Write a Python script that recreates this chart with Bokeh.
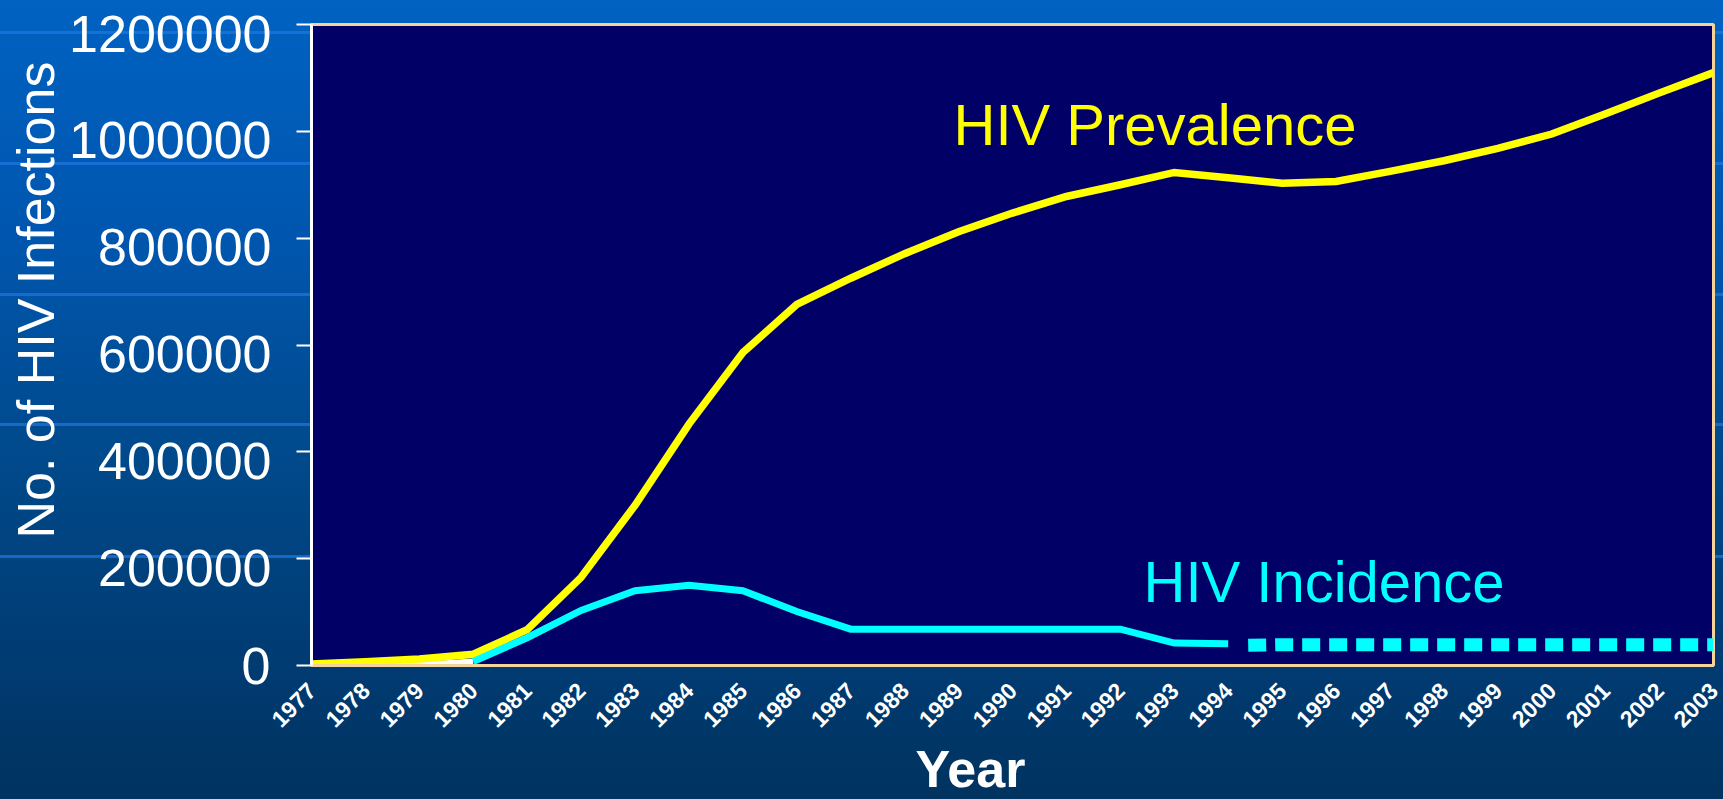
import math
from bokeh.plotting import figure
from bokeh.models import Range1d, FixedTicker, BasicTickFormatter, Label, LinearAxis, Title
from bokeh.embed import file_html
from bokeh.resources import INLINE

# ---- data ----
years = [1977, 1978, 1979, 1980, 1981, 1982, 1983, 1984, 1985, 1986, 1987, 1988, 1989,
         1990, 1991, 1992, 1993, 1994, 1995, 1996, 1997, 1998, 1999, 2000, 2001, 2002, 2003]
prevalence = [3000, 7000, 12000, 21000, 67000, 165000, 300000, 452000, 586000, 676000,
              725000, 771000, 812000, 847000, 878000, 900000, 923000, 913000, 903000,
              906000, 925000, 945000, 968000, 995000, 1033000, 1072000, 1110000]

early_years = [1977, 1978, 1979, 1980]
early_incidence = [0, 0, 1500, 7500]

incidence_years = [1980, 1981, 1982, 1983, 1984, 1985, 1986, 1987, 1988, 1989, 1990,
                   1991, 1992, 1993, 1994]
incidence = [7500, 52000, 103000, 140000, 150000, 140000, 101000, 68000, 68000, 68000,
             68000, 68000, 68000, 42000, 40500]

projected_years = [1994, 1995, 1996, 1997, 1998, 1999, 2000, 2001, 2002, 2003]
projected_incidence = [37000, 39000, 39000, 39000, 39000, 39000, 39000, 39000, 39000, 39000]

y_ticks = [0, 200000, 400000, 600000, 800000, 1000000, 1200000]

x_title = "Year"
y_title = "No. of HIV Infections"
prev_label = "HIV Prevalence"
inc_label = "HIV Incidence"

FONT = "Liberation Sans"
BEIGE = "#F5D49A"

W, H = 1723, 799
BL, BR, BT, BB = 311, 10, 24, 134
frame_w = W - BL - BR
frame_h = H - BT - BB
x0, x1 = years[0], years[-1]
y0, y1 = y_ticks[0], y_ticks[-1]
ux = (x1 - x0) / frame_w      # data units per pixel (x)
uy = (y1 - y0) / frame_h      # data units per pixel (y)

p = figure(width=W, height=H, output_backend="svg", toolbar_location=None,
           x_range=Range1d(x0, x1), y_range=Range1d(y0, y1),
           min_border_left=BL, min_border_right=BR, min_border_top=BT, min_border_bottom=BB)
p.background_fill_color = "#000066"
p.border_fill_color = None
p.outline_line_color = BEIGE
p.outline_line_width = 3
p.xgrid.visible = False
p.ygrid.visible = False

c = "rgba(30,120,225,0.7)"
stops = []
for a in (31, 162, 293, 423, 555):
    stops.append(f"transparent {a}px, {c} {a}px, {c} {a + 3}px, transparent {a + 3}px")
lines_bg = "linear-gradient(to bottom, transparent 0px, " + ", ".join(stops) + ")"
base_bg = "linear-gradient(to bottom, #0062C2 0%, #0056AE 30%, #004888 60%, #003A70 85%, #00335F 100%)"
p.styles = {"background": lines_bg + ", " + base_bg}

# x axis
xa = p.xaxis[0]
xa.ticker = FixedTicker(ticks=years)
xa.formatter = BasicTickFormatter(use_scientific=False)
xa.major_label_orientation = math.pi / 4
xa.major_label_text_font = FONT
xa.major_label_text_font_size = "23px"
xa.major_label_text_font_style = "bold"
xa.major_label_text_color = "white"
xa.major_label_standoff = 21
xa.major_tick_out = 0
xa.major_tick_in = 0
xa.minor_tick_out = 0
xa.minor_tick_in = 0
xa.axis_line_color = BEIGE
xa.axis_line_width = 3

# y axis: tick marks, axis line and the "0" label
ya = p.yaxis[0]
ya.ticker = FixedTicker(ticks=y_ticks)
ya.formatter = BasicTickFormatter(use_scientific=False)
ya.major_label_overrides = {v: "" for v in y_ticks[1:]}
ya.major_label_text_font = FONT
ya.major_label_text_font_size = "52px"
ya.major_label_text_color = "white"
ya.major_label_standoff = 26
ya.major_tick_out = 15
ya.major_tick_in = 0
ya.major_tick_line_color = "white"
ya.major_tick_line_width = 2
ya.minor_tick_out = 0
ya.minor_tick_in = 0
ya.axis_line_color = "white"
ya.axis_line_width = 3

# other y tick labels sit a little below their ticks in the reference
p.extra_y_ranges = {"labels": Range1d(y0 + 9 * uy, y1 + 9 * uy)}
yl = LinearAxis(y_range_name="labels")
yl.ticker = FixedTicker(ticks=y_ticks[1:])
yl.formatter = BasicTickFormatter(use_scientific=False)
yl.major_label_text_font = FONT
yl.major_label_text_font_size = "52px"
yl.major_label_text_color = "white"
yl.major_label_standoff = -33
yl.major_tick_out = 0
yl.major_tick_in = 0
yl.minor_tick_out = 0
yl.minor_tick_in = 0
yl.axis_line_color = None
p.add_layout(yl, "left")

# series
p.line(early_years, early_incidence, line_color="white", line_width=6)
p.line(years, prevalence, line_color="#FFFF00", line_width=7.5, line_join="miter")
p.line(incidence_years, incidence, line_color="#00FFFF", line_width=7, line_join="miter")
p.line(projected_years, projected_incidence, line_color="#00FFFF", line_width=13,
       line_dash="0 20 18 9 18 9 18 9 18 9 18 9 18 9 18 9 18 9 18 9 18 9 18 9 18 9 18 9 18 9 18 9 18 9 18 9 18 9")

# in-plot labels
p.add_layout(Label(x=x0 + 642 * ux, y=y0 + 541 * uy, text=prev_label, text_color="#FFFF00",
                   text_font=FONT, text_font_size="58px", text_align="left",
                   text_baseline="middle"))
p.add_layout(Label(x=x0 + 832 * ux, y=y0 + 84 * uy, text=inc_label, text_color="#00FFFF",
                   text_font=FONT, text_font_size="58px", text_align="left",
                   text_baseline="middle"))

# axis titles
p.add_layout(Title(text=x_title, align="left", offset=604, vertical_align="bottom",
                   standoff=0, text_color="white", text_font=FONT, text_font_size="52px",
                   text_font_style="bold"), "below")
p.add_layout(Title(text=y_title, align="left", offset=127, vertical_align="middle",
                   standoff=2, text_color="white", text_font=FONT, text_font_size="52px",
                   text_font_style="normal"), "left")

open("out.html", "w").write(file_html(p, INLINE))
